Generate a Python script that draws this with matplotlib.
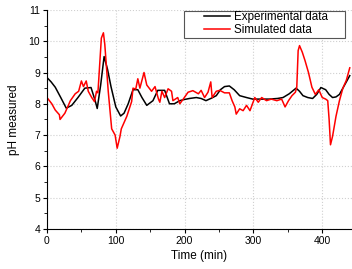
import matplotlib
matplotlib.use('Agg')
import matplotlib.pyplot as plt
from matplotlib.patches import Rectangle
from matplotlib.ticker import MultipleLocator

plt.rcParams['font.family'] = ['Liberation Sans', 'DejaVu Sans']

# experimental (black)
t_exp = [0, 6, 12, 20, 28, 36, 45, 55, 64, 70, 73, 78, 83, 88, 93, 100, 107, 112, 118, 125, 132,
         138, 145, 154, 161, 171, 178, 185, 193, 198, 207, 217, 224, 231, 239, 246, 252, 258, 265,
         272, 280, 290, 299, 310, 323, 335, 343, 352, 362, 367, 372, 379, 386, 392, 398, 405, 410,
         415, 420, 425, 430, 435, 440]
ph_exp = [8.84, 8.7, 8.53, 8.2, 7.86, 7.95, 8.2, 8.5, 8.52, 8.1, 7.85, 8.6, 9.51, 9.1, 8.55, 7.9, 7.61,
          7.7, 8.0, 8.45, 8.45, 8.2, 7.95, 8.1, 8.43, 8.43, 8.0, 8.0, 8.1, 8.13, 8.17, 8.2, 8.17,
          8.1, 8.18, 8.26, 8.45, 8.55, 8.57, 8.45, 8.26, 8.2, 8.15, 8.15, 8.15, 8.17, 8.2, 8.32, 8.5,
          8.4, 8.26, 8.2, 8.17, 8.3, 8.52, 8.45, 8.3, 8.2, 8.22, 8.3, 8.5, 8.7, 8.9]

# simulated (red)
t_sim = [0, 7, 12, 18, 19, 26, 34, 41, 46, 50, 53, 57, 60, 65, 69, 72, 74, 79, 82, 84, 89, 94, 99,
         102, 106, 108, 116, 123, 125, 129, 132, 135, 141, 145, 152, 157, 162, 164, 167, 171, 176,
         181, 183, 190, 193, 198, 205, 212, 220, 224, 229, 234, 238, 240, 246, 251, 258, 265, 269,
         273, 275, 280, 285, 290, 295, 302, 307, 312, 319, 326, 334, 341, 346, 351, 356, 361, 363,
         365, 367, 371, 375, 380, 385, 390, 395, 400, 405, 408, 410, 412, 415, 420, 425, 430, 435,
         440]
ph_sim = [8.2, 8.0, 7.8, 7.65, 7.5, 7.7, 8.1, 8.32, 8.4, 8.73, 8.55, 8.73, 8.4, 8.2, 8.07, 8.4,
          8.35, 10.1, 10.27, 9.9, 8.4, 7.2, 7.0, 6.58, 6.95, 7.2, 7.6, 8.07, 8.5, 8.47, 8.8, 8.5,
          9.0, 8.6, 8.4, 8.55, 8.15, 8.05, 8.4, 8.2, 8.48, 8.4, 8.1, 8.2, 8.0, 8.15, 8.37, 8.42,
          8.32, 8.43, 8.2, 8.37, 8.7, 8.2, 8.4, 8.43, 8.35, 8.35, 8.1, 7.9, 7.67, 7.84, 7.78, 7.95,
          7.78, 8.2, 8.05, 8.2, 8.1, 8.15, 8.1, 8.15, 7.9, 8.1, 8.26, 8.37, 8.53, 9.7, 9.86, 9.65,
          9.38, 9.0, 8.53, 8.3, 8.45, 8.2, 8.15, 8.1, 7.5, 6.69, 6.96, 7.6, 8.1, 8.5, 8.75, 9.15]

fig = plt.figure(figsize=(3.52, 2.69), dpi=100)
ax = fig.add_axes([0.1335, 0.149, 0.866, 0.814])

ax.plot(t_exp, ph_exp, color='black', lw=1.1, label='Experimental data')
ax.plot(t_sim, ph_sim, color='red', lw=1.1, label='Simulated data')

ax.set_xlim(0, 443)
ax.set_ylim(4, 11)
ax.xaxis.set_major_locator(MultipleLocator(100))
ax.xaxis.set_minor_locator(MultipleLocator(50))
ax.yaxis.set_major_locator(MultipleLocator(1))
ax.yaxis.set_minor_locator(MultipleLocator(0.5))
ax.grid(True, which='major', color='#d0d0d0', linestyle=':', lw=0.8)
ax.spines['top'].set_visible(False)
ax.spines['right'].set_visible(False)
ax.tick_params(which='major', direction='out', length=3, labelsize=7.5, pad=2)
ax.tick_params(which='minor', direction='out', length=2)
ax.set_xlabel('Time (min)', fontsize=8.5, labelpad=3)
ax.set_ylabel('pH measured', fontsize=8.5, labelpad=6)

# legend box drawn wider than the entries, like the original
ax.add_patch(Rectangle((0.449, 0.872), 0.528, 0.123, transform=ax.transAxes,
                       facecolor='white', edgecolor='#555555', lw=0.8, zorder=4))
leg = ax.legend(loc='upper left', bbox_to_anchor=(0.511, 1.0), borderaxespad=0, fontsize=8.4,
                frameon=False, handlelength=2.2, handletextpad=0.4,
                borderpad=0.1, labelspacing=0.1)
leg.set_zorder(5)

fig.savefig('out.png', dpi=100)
